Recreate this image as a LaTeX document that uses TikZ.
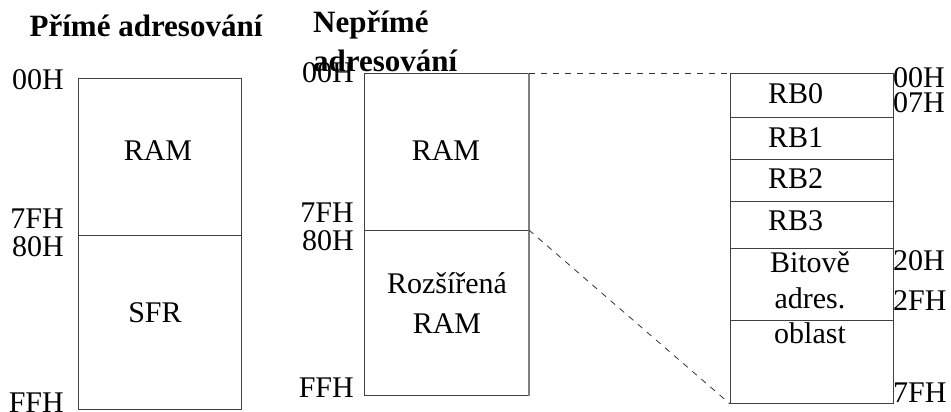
\documentclass[tikz,border=0pt]{standalone}
\usepackage{fontspec}
\setmainfont{Liberation Serif}
\begin{document}
\begin{tikzpicture}[x=1pt,y=-1pt,
  cell/.style={draw=black!75, line width=0.9pt, inner sep=0pt, minimum width=#1, anchor=north west},
  lbl/.style={inner sep=0pt, font=\fontsize{30}{30}\selectfont},
  ttl/.style={inner sep=0pt, font=\fontsize{31}{31}\selectfont\bfseries},
  conn/.style={draw=black!80, line width=0.8pt, dash pattern=on 6pt off 6pt}]
\useasboundingbox (0,0) rectangle (951,412);
% left column
\node[cell=163pt, minimum height=157pt] (lram) at (78,78) {};
\node[cell=163pt, minimum height=174pt] (lsfr) at (78,235) {};
% middle column
\node[cell=164pt, minimum height=157pt] (mram) at (364,73) {};
\node[cell=164pt, minimum height=165pt] (mext) at (364,230) {};
\draw[gray, line width=1.4pt] (mram.north east) -- (mext.south east);
% right column
\node[cell=163pt, minimum height=44pt] (rb0) at (730,73) {};
\node[cell=163pt, minimum height=42pt] (rb1) at (730,117) {};
\node[cell=163pt, minimum height=42pt] (rb2) at (730,159) {};
\node[cell=163pt, minimum height=47pt] (rb3) at (730,201) {};
\node[cell=163pt, minimum height=72pt] (rbit) at (730,248) {};
\node[cell=163pt, minimum height=83pt] (rrest) at (730,320) {};
% dashed connectors
\draw[conn] (mram.north east) -- (rb0.north west);
\draw[conn] (mext.north east) -- (rrest.south west);
% titles
\node[ttl, anchor=base] (t1) at (146,37) {Přímé adresování};
\node[ttl, anchor=base west] (t2a) at (313,33) {Nepřímé};
\node[ttl, anchor=base west] (t2b) at (313,72) {adresování};
% left labels
\node[lbl, anchor=base east] (l00) at (64,90) {00H};
\node[lbl, anchor=base east] (l7f) at (64,228) {7FH};
\node[lbl, anchor=base east] (l80) at (64,256) {80H};
\node[lbl, anchor=base east] (lff) at (64,412) {FFH};
\node[lbl, anchor=base] (lramt) at (158,160) {RAM};
\node[lbl, anchor=base] (lsfrt) at (155,322) {SFR};
% middle labels
\node[lbl, anchor=base east] (m00) at (354,83) {00H};
\node[lbl, anchor=base east] (m7f) at (354,222) {7FH};
\node[lbl, anchor=base east] (m80) at (354,250) {80H};
\node[lbl, anchor=base east] (mff) at (354,397) {FFH};
\node[lbl, anchor=base] (mramt) at (446,160) {RAM};
\node[lbl, anchor=base] (mext1) at (447,293) {Rozšířená};
\node[lbl, anchor=base] (mext2) at (447,333) {RAM};
% right labels
\node[lbl, anchor=base west] (r0t) at (768,103) {RB0};
\node[lbl, anchor=base west] (r1t) at (768,147) {RB1};
\node[lbl, anchor=base west] (r2t) at (768,188) {RB2};
\node[lbl, anchor=base west] (r3t) at (768,230) {RB3};
\node[lbl, anchor=base] (rbt1) at (810,272) {Bitově};
\node[lbl, anchor=base] (rbt2) at (810,308) {adres.};
\node[lbl, anchor=base] (rbt3) at (810,343) {oblast};
\node[lbl, anchor=base west] (r00) at (893,88) {00H};
\node[lbl, anchor=base west] (r07) at (893,112) {07H};
\node[lbl, anchor=base west] (r20) at (893,270) {20H};
\node[lbl, anchor=base west] (r2f) at (893,310) {2FH};
\node[lbl, anchor=base west] (r7f) at (893,402) {7FH};
\end{tikzpicture}
\end{document}
